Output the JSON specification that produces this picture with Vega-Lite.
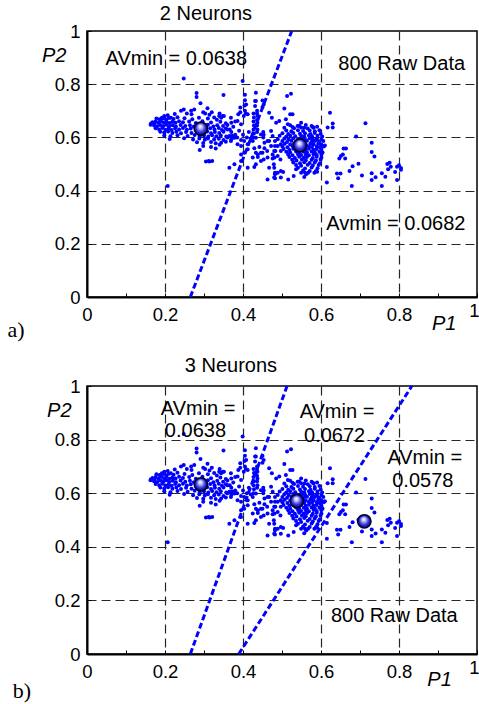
{
  "$schema": "https://vega.github.io/schema/vega-lite/v6.json",
  "padding": {"left": 6, "top": 3, "right": 0, "bottom": 0},
  "background": "white",
  "config": {
    "font": "Liberation Sans",
    "view": {"stroke": "black", "strokeWidth": 1.5},
    "axis": {
      "title": null,
      "values": [0,0.04,0.08,0.12,0.16,0.2,0.24,0.28,0.32,0.36,0.4,0.44,0.48,0.52,0.56,0.6,0.64,0.68,0.72,0.76,0.8,0.84,0.88,0.92,0.96,1],
      "labelExpr": "abs(datum.value*5-round(datum.value*5))<0.001 ? format(datum.value,'~g') : ''",
      "labelFontSize": 18.5, "labelColor": "black", "labelFont": "Liberation Sans",
      "labelFlush": false, "labelOverlap": false, "labelBound": false,
      "tickSize": -4, "tickColor": "black", "tickWidth": 1,
      "domainColor": "black", "domainWidth": 2,
      "grid": true, "gridDash": [9, 5], "gridColor": "#262626", "gridWidth": 1.2,
      "gridOpacity": {"condition": {"test": "abs(datum.value*5-round(datum.value*5))<0.001 && datum.value>0.01 && datum.value<0.99", "value": 1}, "value": 0}
    },
    "axisX": {
      "labelPadding": {"condition": {"test": "datum.value>0.99", "value": 8}, "value": 12},
      "labelAlign": {"condition": {"test": "datum.value>0.99", "value": "right"}, "value": "center"},
      "labelOffset": {"condition": {"test": "datum.value>0.99", "value": 2}, "value": 0}
    },
    "axisY": {"labelPadding": 11}
  },
  "datasets": {
    "raw": [
      {"x":0.248,"y":0.821},{"x":0.399,"y":0.812},{"x":0.207,"y":0.417},{"x":0.281,"y":0.767},{"x":0.281,"y":0.752},{"x":0.350,"y":0.759},{"x":0.291,"y":0.728},
      {"x":0.405,"y":0.760},{"x":0.405,"y":0.740},{"x":0.404,"y":0.720},{"x":0.405,"y":0.700},{"x":0.407,"y":0.690},
      {"x":0.241,"y":0.700},{"x":0.248,"y":0.705},{"x":0.267,"y":0.700},{"x":0.275,"y":0.705},{"x":0.298,"y":0.695},{"x":0.309,"y":0.710},{"x":0.303,"y":0.690},{"x":0.314,"y":0.685},
      {"x":0.198,"y":0.680},{"x":0.207,"y":0.683},{"x":0.192,"y":0.674},{"x":0.215,"y":0.674},{"x":0.339,"y":0.680},{"x":0.351,"y":0.680},{"x":0.326,"y":0.675},
      {"x":0.164,"y":0.652},{"x":0.173,"y":0.652},
      {"x":0.433,"y":0.768},{"x":0.450,"y":0.739},{"x":0.453,"y":0.724},{"x":0.450,"y":0.714},{"x":0.431,"y":0.737},
      {"x":0.506,"y":0.709},{"x":0.513,"y":0.756},{"x":0.523,"y":0.764},{"x":0.521,"y":0.687},{"x":0.527,"y":0.687},
      {"x":0.467,"y":0.693},{"x":0.474,"y":0.674},{"x":0.485,"y":0.655},{"x":0.493,"y":0.662},{"x":0.510,"y":0.668},{"x":0.515,"y":0.649},{"x":0.527,"y":0.639},{"x":0.540,"y":0.643},{"x":0.549,"y":0.655},{"x":0.557,"y":0.636},{"x":0.579,"y":0.639},
      {"x":0.623,"y":0.693},{"x":0.630,"y":0.652},{"x":0.630,"y":0.637},{"x":0.617,"y":0.637},
      {"x":0.714,"y":0.653},{"x":0.690,"y":0.603},{"x":0.730,"y":0.580},{"x":0.730,"y":0.545},{"x":0.737,"y":0.528},
      {"x":0.658,"y":0.558},{"x":0.664,"y":0.558},{"x":0.656,"y":0.536},{"x":0.651,"y":0.530},{"x":0.662,"y":0.521},{"x":0.647,"y":0.521},{"x":0.615,"y":0.489},{"x":0.641,"y":0.464},{"x":0.650,"y":0.464},{"x":0.644,"y":0.446},{"x":0.673,"y":0.474},{"x":0.681,"y":0.492},{"x":0.679,"y":0.417},{"x":0.696,"y":0.501},
      {"x":0.705,"y":0.457},{"x":0.730,"y":0.465},{"x":0.730,"y":0.440},{"x":0.740,"y":0.450},{"x":0.756,"y":0.465},{"x":0.756,"y":0.417},{"x":0.765,"y":0.452},{"x":0.770,"y":0.500},{"x":0.776,"y":0.505},{"x":0.779,"y":0.490},{"x":0.772,"y":0.480},{"x":0.790,"y":0.470},{"x":0.795,"y":0.440},{"x":0.795,"y":0.490},{"x":0.805,"y":0.485},{"x":0.805,"y":0.478},{"x":0.800,"y":0.495},
      {"x":0.615,"y":0.430},{"x":0.590,"y":0.640},{"x":0.590,"y":0.590},{"x":0.600,"y":0.560},{"x":0.610,"y":0.570},{"x":0.583,"y":0.467},{"x":0.590,"y":0.471},{"x":0.567,"y":0.467},{"x":0.559,"y":0.467},
      {"x":0.429,"y":0.489},{"x":0.463,"y":0.442},{"x":0.482,"y":0.467},{"x":0.482,"y":0.446},{"x":0.497,"y":0.449},{"x":0.536,"y":0.480},{"x":0.549,"y":0.467},{"x":0.562,"y":0.461},{"x":0.557,"y":0.451},{"x":0.587,"y":0.474},
      {"x":0.433,"y":0.542},{"x":0.438,"y":0.526},{"x":0.450,"y":0.542},{"x":0.453,"y":0.517},{"x":0.429,"y":0.559},{"x":0.442,"y":0.564},{"x":0.455,"y":0.559},{"x":0.467,"y":0.586},{"x":0.472,"y":0.568},{"x":0.462,"y":0.549},{"x":0.480,"y":0.549},{"x":0.489,"y":0.568},{"x":0.476,"y":0.521},{"x":0.496,"y":0.517},
      {"x":0.348,"y":0.680},{"x":0.344,"y":0.674},{"x":0.369,"y":0.674},{"x":0.395,"y":0.649},{"x":0.402,"y":0.680},{"x":0.412,"y":0.687},{"x":0.408,"y":0.724},{"x":0.433,"y":0.737},{"x":0.431,"y":0.718},
      {"x":0.365,"y":0.605},{"x":0.369,"y":0.586},{"x":0.378,"y":0.599},{"x":0.386,"y":0.574},{"x":0.395,"y":0.568},{"x":0.403,"y":0.586},{"x":0.412,"y":0.574},{"x":0.425,"y":0.586},{"x":0.433,"y":0.599},{"x":0.446,"y":0.611},{"x":0.455,"y":0.580},{"x":0.463,"y":0.586},{"x":0.472,"y":0.624},{"x":0.476,"y":0.605},{"x":0.489,"y":0.593},{"x":0.497,"y":0.574},
      {"x":0.395,"y":0.536},{"x":0.403,"y":0.542},{"x":0.412,"y":0.555},{"x":0.425,"y":0.524},{"x":0.438,"y":0.536},{"x":0.446,"y":0.542},{"x":0.463,"y":0.524},{"x":0.476,"y":0.536},{"x":0.489,"y":0.530},{"x":0.497,"y":0.549},
      {"x":0.365,"y":0.486},{"x":0.378,"y":0.499},{"x":0.395,"y":0.511},{"x":0.412,"y":0.486},{"x":0.446,"y":0.511},{"x":0.433,"y":0.499},{"x":0.467,"y":0.486},{"x":0.479,"y":0.499},{"x":0.497,"y":0.474},
      {"x":0.480,"y":0.449},{"x":0.489,"y":0.467},{"x":0.516,"y":0.442},{"x":0.530,"y":0.455},{"x":0.503,"y":0.470},
      {"x":0.314,"y":0.509},{"x":0.305,"y":0.509},
      {"x":0.436,"y":0.700},{"x":0.436,"y":0.690},{"x":0.437,"y":0.680},{"x":0.436,"y":0.665},{"x":0.437,"y":0.655},{"x":0.436,"y":0.645},{"x":0.437,"y":0.630},{"x":0.436,"y":0.620},
      {"x":0.427,"y":0.690},{"x":0.428,"y":0.675},{"x":0.427,"y":0.660},{"x":0.428,"y":0.645},{"x":0.427,"y":0.630},{"x":0.428,"y":0.615},{"x":0.427,"y":0.600},
      {"x":0.452,"y":0.620},{"x":0.453,"y":0.610},{"x":0.452,"y":0.600},
      {"x":0.393,"y":0.712},{"x":0.393,"y":0.695},{"x":0.388,"y":0.687},{"x":0.386,"y":0.662},
      {"x":0.482,"y":0.586},{"x":0.482,"y":0.568},{"x":0.483,"y":0.549},{"x":0.481,"y":0.524},{"x":0.480,"y":0.486},{"x":0.482,"y":0.461},
      {"x":0.360,"y":0.630},{"x":0.370,"y":0.620},{"x":0.380,"y":0.610},{"x":0.375,"y":0.640},{"x":0.385,"y":0.600},{"x":0.390,"y":0.625},{"x":0.395,"y":0.590},{"x":0.400,"y":0.610},{"x":0.410,"y":0.600},{"x":0.415,"y":0.620},{"x":0.420,"y":0.595},{"x":0.360,"y":0.600},{"x":0.370,"y":0.655},{"x":0.380,"y":0.660},
      {"x":0.178,"y":0.671},{"x":0.186,"y":0.668},{"x":0.195,"y":0.672},{"x":0.203,"y":0.667},{"x":0.210,"y":0.673},{"x":0.222,"y":0.669},{"x":0.232,"y":0.676},{"x":0.250,"y":0.672},{"x":0.270,"y":0.668},{"x":0.287,"y":0.674},{"x":0.310,"y":0.671},{"x":0.333,"y":0.666},
      {"x":0.168,"y":0.657},{"x":0.176,"y":0.660},{"x":0.183,"y":0.655},{"x":0.190,"y":0.661},{"x":0.197,"y":0.656},{"x":0.204,"y":0.660},{"x":0.212,"y":0.654},{"x":0.219,"y":0.659},{"x":0.227,"y":0.655},{"x":0.236,"y":0.661},{"x":0.246,"y":0.657},{"x":0.262,"y":0.660},{"x":0.279,"y":0.654},{"x":0.296,"y":0.661},{"x":0.318,"y":0.656},{"x":0.342,"y":0.659},{"x":0.356,"y":0.653},
      {"x":0.163,"y":0.648},{"x":0.172,"y":0.645},{"x":0.180,"y":0.642},{"x":0.188,"y":0.647},{"x":0.196,"y":0.643},{"x":0.204,"y":0.648},{"x":0.211,"y":0.642},{"x":0.220,"y":0.646},{"x":0.228,"y":0.641},{"x":0.240,"y":0.647},{"x":0.252,"y":0.643},{"x":0.264,"y":0.646},{"x":0.274,"y":0.641},{"x":0.286,"y":0.645},{"x":0.300,"y":0.643},{"x":0.310,"y":0.648},{"x":0.324,"y":0.641},{"x":0.334,"y":0.646},{"x":0.349,"y":0.643},{"x":0.360,"y":0.647},
      {"x":0.176,"y":0.634},{"x":0.185,"y":0.630},{"x":0.193,"y":0.635},{"x":0.201,"y":0.629},{"x":0.209,"y":0.633},{"x":0.217,"y":0.628},{"x":0.226,"y":0.634},{"x":0.236,"y":0.630},{"x":0.246,"y":0.635},{"x":0.256,"y":0.629},{"x":0.266,"y":0.633},{"x":0.279,"y":0.628},{"x":0.294,"y":0.632},{"x":0.306,"y":0.629},{"x":0.316,"y":0.634},{"x":0.327,"y":0.630},{"x":0.338,"y":0.635},{"x":0.346,"y":0.628},{"x":0.356,"y":0.633},{"x":0.366,"y":0.630},
      {"x":0.188,"y":0.621},{"x":0.198,"y":0.618},{"x":0.208,"y":0.622},{"x":0.219,"y":0.617},{"x":0.229,"y":0.621},{"x":0.241,"y":0.616},{"x":0.254,"y":0.620},{"x":0.268,"y":0.617},{"x":0.283,"y":0.621},{"x":0.297,"y":0.618},{"x":0.308,"y":0.622},{"x":0.318,"y":0.616},{"x":0.328,"y":0.620},{"x":0.339,"y":0.617},{"x":0.350,"y":0.621},
      {"x":0.198,"y":0.607},{"x":0.214,"y":0.604},{"x":0.232,"y":0.608},{"x":0.258,"y":0.605},{"x":0.276,"y":0.609},{"x":0.289,"y":0.604},{"x":0.300,"y":0.607},{"x":0.311,"y":0.603},{"x":0.321,"y":0.608},{"x":0.332,"y":0.604},{"x":0.343,"y":0.607},{"x":0.357,"y":0.603},{"x":0.372,"y":0.606},
      {"x":0.212,"y":0.594},{"x":0.249,"y":0.597},{"x":0.272,"y":0.592},{"x":0.288,"y":0.596},{"x":0.302,"y":0.591},{"x":0.310,"y":0.596},{"x":0.326,"y":0.592},{"x":0.338,"y":0.595},{"x":0.350,"y":0.590},
      {"x":0.282,"y":0.582},{"x":0.298,"y":0.579},{"x":0.318,"y":0.583},{"x":0.330,"y":0.578},{"x":0.344,"y":0.580},
      {"x":0.289,"y":0.553},{"x":0.298,"y":0.568},{"x":0.318,"y":0.564},{"x":0.330,"y":0.558},{"x":0.312,"y":0.511},{"x":0.321,"y":0.511},{"x":0.340,"y":0.572},{"x":0.356,"y":0.584},{"x":0.370,"y":0.593},{"x":0.256,"y":0.690},{"x":0.268,"y":0.687},{"x":0.225,"y":0.688},{"x":0.320,"y":0.695},{"x":0.340,"y":0.690},
      {"x":0.521,"y":0.646},{"x":0.544,"y":0.644},{"x":0.561,"y":0.647},{"x":0.576,"y":0.643},
      {"x":0.506,"y":0.636},{"x":0.531,"y":0.634},{"x":0.549,"y":0.637},{"x":0.566,"y":0.633},{"x":0.581,"y":0.636},
      {"x":0.511,"y":0.626},{"x":0.524,"y":0.623},{"x":0.541,"y":0.627},{"x":0.554,"y":0.624},{"x":0.571,"y":0.626},{"x":0.584,"y":0.623},{"x":0.596,"y":0.627},
      {"x":0.501,"y":0.616},{"x":0.516,"y":0.613},{"x":0.529,"y":0.617},{"x":0.546,"y":0.614},{"x":0.559,"y":0.616},{"x":0.573,"y":0.613},{"x":0.584,"y":0.617},{"x":0.599,"y":0.614},
      {"x":0.494,"y":0.606},{"x":0.511,"y":0.603},{"x":0.521,"y":0.607},{"x":0.534,"y":0.604},{"x":0.549,"y":0.606},{"x":0.557,"y":0.603},{"x":0.569,"y":0.607},{"x":0.577,"y":0.604},{"x":0.591,"y":0.606},{"x":0.603,"y":0.603},
      {"x":0.506,"y":0.596},{"x":0.517,"y":0.593},{"x":0.529,"y":0.597},{"x":0.541,"y":0.594},{"x":0.551,"y":0.596},{"x":0.559,"y":0.593},{"x":0.571,"y":0.597},{"x":0.579,"y":0.594},{"x":0.589,"y":0.596},{"x":0.601,"y":0.593},
      {"x":0.501,"y":0.586},{"x":0.513,"y":0.583},{"x":0.524,"y":0.587},{"x":0.536,"y":0.584},{"x":0.544,"y":0.586},{"x":0.556,"y":0.583},{"x":0.564,"y":0.587},{"x":0.576,"y":0.584},{"x":0.584,"y":0.586},{"x":0.596,"y":0.583},{"x":0.606,"y":0.586},
      {"x":0.507,"y":0.576},{"x":0.521,"y":0.573},{"x":0.531,"y":0.577},{"x":0.541,"y":0.574},{"x":0.553,"y":0.576},{"x":0.561,"y":0.573},{"x":0.573,"y":0.577},{"x":0.581,"y":0.574},{"x":0.593,"y":0.576},{"x":0.601,"y":0.573},
      {"x":0.501,"y":0.566},{"x":0.514,"y":0.563},{"x":0.528,"y":0.567},{"x":0.537,"y":0.564},{"x":0.549,"y":0.566},{"x":0.557,"y":0.563},{"x":0.569,"y":0.567},{"x":0.577,"y":0.564},{"x":0.589,"y":0.566},{"x":0.597,"y":0.563},{"x":0.607,"y":0.566},
      {"x":0.504,"y":0.556},{"x":0.519,"y":0.553},{"x":0.529,"y":0.557},{"x":0.541,"y":0.554},{"x":0.549,"y":0.556},{"x":0.561,"y":0.553},{"x":0.569,"y":0.557},{"x":0.581,"y":0.554},{"x":0.589,"y":0.556},{"x":0.601,"y":0.553},
      {"x":0.511,"y":0.546},{"x":0.521,"y":0.543},{"x":0.536,"y":0.547},{"x":0.544,"y":0.544},{"x":0.556,"y":0.546},{"x":0.564,"y":0.543},{"x":0.576,"y":0.547},{"x":0.584,"y":0.544},{"x":0.596,"y":0.546},{"x":0.604,"y":0.543},
      {"x":0.516,"y":0.536},{"x":0.527,"y":0.533},{"x":0.541,"y":0.537},{"x":0.549,"y":0.534},{"x":0.561,"y":0.536},{"x":0.569,"y":0.533},{"x":0.581,"y":0.537},{"x":0.589,"y":0.534},{"x":0.601,"y":0.536},
      {"x":0.519,"y":0.526},{"x":0.533,"y":0.523},{"x":0.544,"y":0.527},{"x":0.556,"y":0.524},{"x":0.564,"y":0.526},{"x":0.579,"y":0.523},{"x":0.589,"y":0.527},{"x":0.601,"y":0.524},
      {"x":0.526,"y":0.516},{"x":0.537,"y":0.513},{"x":0.551,"y":0.517},{"x":0.561,"y":0.514},{"x":0.576,"y":0.516},{"x":0.587,"y":0.513},{"x":0.599,"y":0.517},
      {"x":0.529,"y":0.506},{"x":0.546,"y":0.503},{"x":0.557,"y":0.507},{"x":0.571,"y":0.504},{"x":0.584,"y":0.506},{"x":0.597,"y":0.503},
      {"x":0.536,"y":0.496},{"x":0.549,"y":0.493},{"x":0.566,"y":0.497},{"x":0.579,"y":0.494},{"x":0.594,"y":0.496},
      {"x":0.541,"y":0.486},{"x":0.559,"y":0.483},{"x":0.576,"y":0.487},{"x":0.591,"y":0.484},
      {"x":0.554,"y":0.476},{"x":0.571,"y":0.474}
    ],
    "linesA": [{"id":1,"x":0.265,"y":0},{"id":1,"x":0.525,"y":1}],
    "linesB": [{"id":1,"x":0.265,"y":0},{"id":1,"x":0.513,"y":1},{"id":2,"x":0.389,"y":0},{"id":2,"x":0.833,"y":1}],
    "centersA": [{"x":0.292,"y":0.633},{"x":0.546,"y":0.570}],
    "centersB": [{"x":0.292,"y":0.633},{"x":0.538,"y":0.571},{"x":0.711,"y":0.495}],
    "textA": [
      {"x":0.305,"y":1.064,"t":"2 Neurons"},
      {"x":0.229,"y":0.893,"t":"AVmin = 0.0638"},
      {"x":0.807,"y":0.875,"t":"800 Raw Data"},
      {"x":0.792,"y":0.276,"t":"Avmin = 0.0682"}
    ],
    "textB": [
      {"x":0.369,"y":1.075,"t":"3 Neurons"},
      {"x":0.285,"y":0.913,"t":"AVmin ="},
      {"x":0.278,"y":0.832,"t":"0.0638"},
      {"x":0.641,"y":0.904,"t":"AVmin ="},
      {"x":0.635,"y":0.813,"t":"0.0672"},
      {"x":0.866,"y":0.733,"t":"AVmin ="},
      {"x":0.861,"y":0.646,"t":"0.0578"},
      {"x":0.788,"y":0.142,"t":"800 Raw Data"}
    ],
    "pA": [{"x":-0.084,"y":0.906,"t":"P2"},{"x":0.916,"y":-0.103,"t":"P1"}],
    "pB": [{"x":-0.071,"y":0.907,"t":"P2"},{"x":0.904,"y":-0.098,"t":"P1"}],
    "labA": [{"x":-0.182,"y":-0.124,"t":"a)"}],
    "labB": [{"x":-0.167,"y":-0.138,"t":"b)"}]
  },
  "vconcat": [
    {
      "width": 390,
      "height": 266,
      "encoding": {
        "x": {"field": "x", "type": "quantitative", "scale": {"domain": [0, 1], "nice": false, "zero": false}},
        "y": {"field": "y", "type": "quantitative", "scale": {"domain": [0, 1], "nice": false, "zero": false}}
      },
      "layer": [
        {"data": {"name": "raw"}, "mark": {"type": "circle", "size": 16, "color": "#0000ff", "opacity": 1}},
        {"data": {"name": "linesA"}, "mark": {"type": "line", "color": "#0000ff", "strokeWidth": 3, "strokeDash": [6, 3]}, "encoding": {"detail": {"field": "id"}}},
        {"data": {"name": "centersA"}, "mark": {"type": "circle", "size": 180, "opacity": 1, "stroke": "#000030", "strokeWidth": 1.5,
          "fill": {"gradient": "radial", "x1": 0.45, "y1": 0.3, "r1": 0, "x2": 0.5, "y2": 0.5, "r2": 0.5,
            "stops": [{"offset": 0, "color": "#ffffff"}, {"offset": 0.25, "color": "#d0d4ff"}, {"offset": 0.65, "color": "#3a3ae0"}, {"offset": 1, "color": "#00007a"}]}}},
        {"data": {"name": "textA"}, "mark": {"type": "text", "fontSize": 20, "align": "center", "baseline": "middle", "font": "Liberation Sans", "color": "black"}, "encoding": {"text": {"field": "t"}}},
        {"data": {"name": "pA"}, "mark": {"type": "text", "fontSize": 20, "fontStyle": "italic", "align": "center", "baseline": "middle", "font": "Liberation Sans", "color": "black"}, "encoding": {"text": {"field": "t"}}},
        {"data": {"name": "labA"}, "mark": {"type": "text", "fontSize": 22, "align": "center", "baseline": "middle", "font": "Liberation Serif", "color": "black"}, "encoding": {"text": {"field": "t"}}}
      ]
    },
    {
      "width": 390,
      "height": 268,
      "encoding": {
        "x": {"field": "x", "type": "quantitative", "scale": {"domain": [0, 1], "nice": false, "zero": false}},
        "y": {"field": "y", "type": "quantitative", "scale": {"domain": [0, 1], "nice": false, "zero": false}}
      },
      "layer": [
        {"data": {"name": "raw"}, "mark": {"type": "circle", "size": 16, "color": "#0000ff", "opacity": 1}},
        {"data": {"name": "linesB"}, "mark": {"type": "line", "color": "#0000ff", "strokeWidth": 3, "strokeDash": [6, 3]}, "encoding": {"detail": {"field": "id"}}},
        {"data": {"name": "centersB"}, "mark": {"type": "circle", "size": 180, "opacity": 1, "stroke": "#000030", "strokeWidth": 1.5,
          "fill": {"gradient": "radial", "x1": 0.45, "y1": 0.3, "r1": 0, "x2": 0.5, "y2": 0.5, "r2": 0.5,
            "stops": [{"offset": 0, "color": "#ffffff"}, {"offset": 0.25, "color": "#d0d4ff"}, {"offset": 0.65, "color": "#3a3ae0"}, {"offset": 1, "color": "#00007a"}]}}},
        {"data": {"name": "textB"}, "mark": {"type": "text", "fontSize": 20, "align": "center", "baseline": "middle", "font": "Liberation Sans", "color": "black"}, "encoding": {"text": {"field": "t"}}},
        {"data": {"name": "pB"}, "mark": {"type": "text", "fontSize": 20, "fontStyle": "italic", "align": "center", "baseline": "middle", "font": "Liberation Sans", "color": "black"}, "encoding": {"text": {"field": "t"}}},
        {"data": {"name": "labB"}, "mark": {"type": "text", "fontSize": 22, "align": "center", "baseline": "middle", "font": "Liberation Serif", "color": "black"}, "encoding": {"text": {"field": "t"}}}
      ]
    }
  ],
  "spacing": 89,
  "bounds": "flush"
}
